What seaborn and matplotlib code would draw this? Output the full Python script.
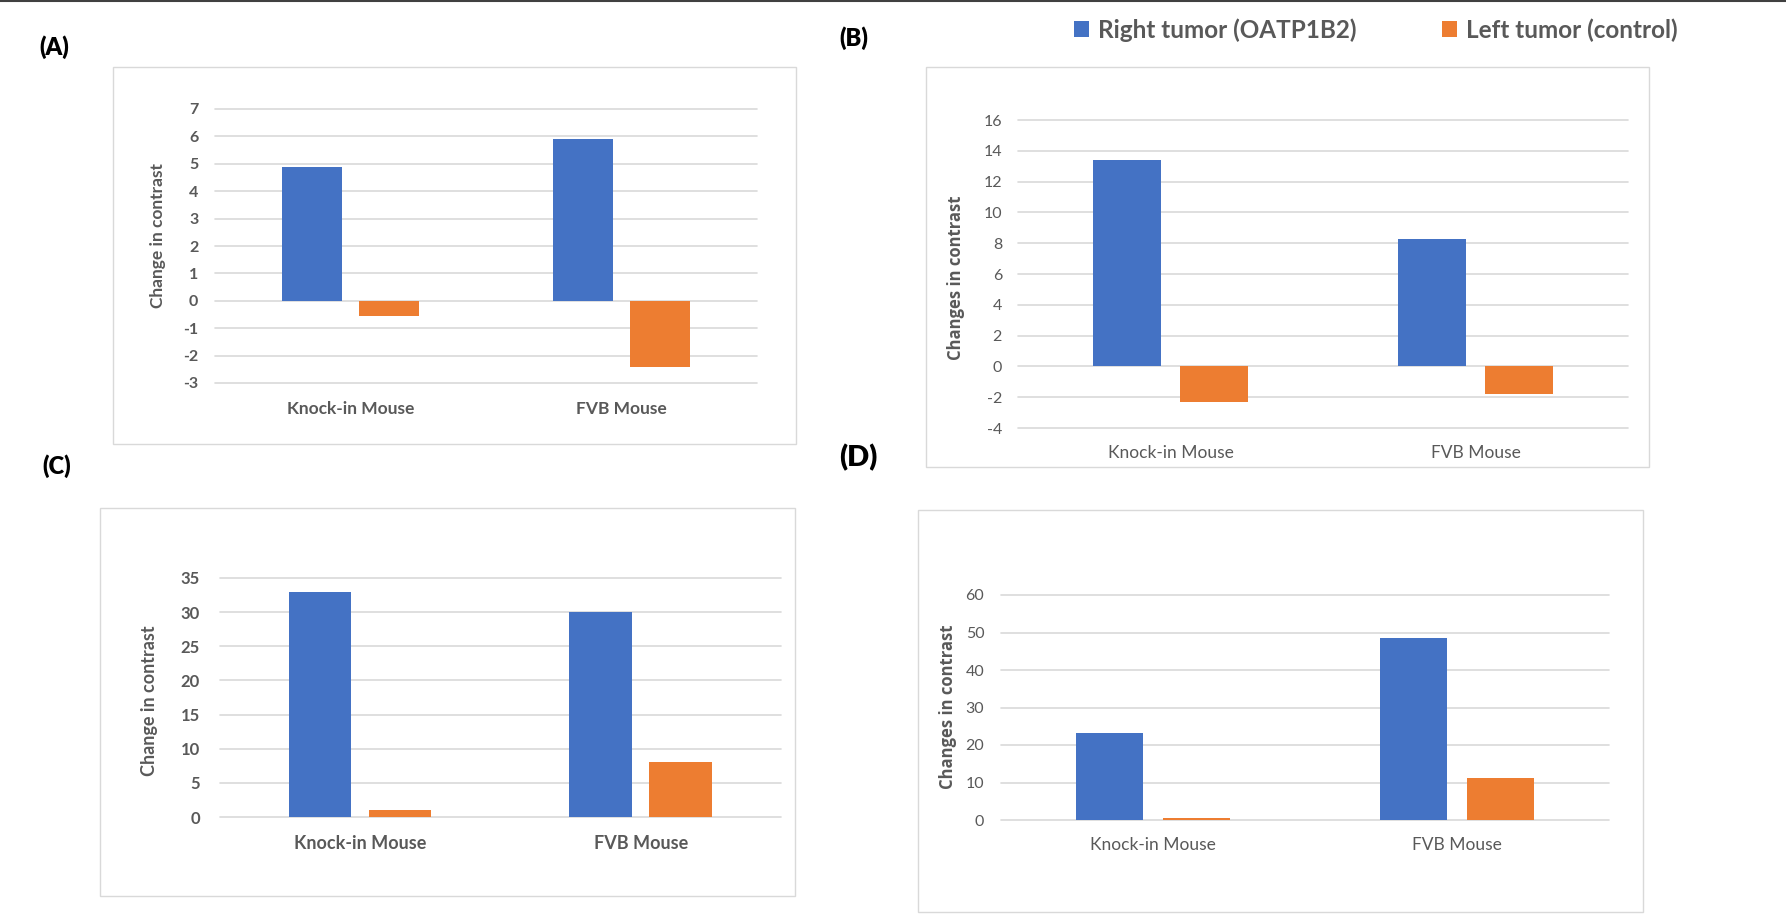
import matplotlib
matplotlib.use("Agg")
import matplotlib.pyplot as plt
from matplotlib.patches import Rectangle
from matplotlib.lines import Line2D
import seaborn as sns
import pandas as pd

# ---------------- data ----------------
categories = ["Knock-in Mouse", "FVB Mouse"]
series = ["Right tumor (OATP1B2)", "Left tumor (control)"]

a_right = [4.9, 5.9]
a_left = [-0.55, -2.4]
b_right = [13.4, 8.3]
b_left = [-2.3, -1.8]
c_right = [33.0, 30.0]
c_left = [1.0, 8.0]
d_right = [23.1, 48.6]
d_left = [0.6, 11.1]

a_ticks = [-3, -2, -1, 0, 1, 2, 3, 4, 5, 6, 7]
b_ticks = [-4, -2, 0, 2, 4, 6, 8, 10, 12, 14, 16]
c_ticks = [0, 5, 10, 15, 20, 25, 30, 35]
d_ticks = [0, 10, 20, 30, 40, 50, 60]

panel_labels = ["(A)", "(B)", "(C)", "(D)"]
ylabels = ["Change in contrast", "Changes in contrast", "Change in contrast", "Changes in contrast"]

BLUE = "#4472C4"
ORANGE = "#ED7D31"
GRID = "#D9D9D9"
TXT = "#595959"

sns.set_theme(style="white")
plt.rcParams["font.family"] = ["Lato", "DejaVu Sans"]

W, H = 1786, 924
fig = plt.figure(figsize=(W / 100, H / 100), dpi=100)
fig.patch.set_facecolor("white")


def fx(px):
    return px / W


def fy(py):
    return 1 - py / H


def make_df(right, left):
    rows = []
    for c, v in zip(categories, right):
        rows.append({"Mouse": c, "Tumor": series[0], "Change": v})
    for c, v in zip(categories, left):
        rows.append({"Mouse": c, "Tumor": series[1], "Change": v})
    return pd.DataFrame(rows)


panels = [
    dict(box=(113, 67, 796, 444), ax=(215, 109, 757, 383), right=a_right, left=a_left, ticks=a_ticks,
         bold=True, ylab=(158, 236), tfs=11.5, cfs=12.5, yfs=12.5, yfam=["Lato", "DejaVu Sans"],
         lab=(54, 47), lfs=17, tpad=12, cpad=13),
    dict(box=(926, 67, 1649, 467), ax=(1018, 120, 1628, 428), right=b_right, left=b_left, ticks=b_ticks,
         bold=False, ylab=(956, 278), tfs=11.5, cfs=12.5, yfs=12, yfam=["Open Sans", "DejaVu Sans"],
         lab=(854, 38), lfs=17, tpad=11.5, cpad=12.5),
    dict(box=(100, 508, 795, 896), ax=(219.5, 578, 781, 817), right=c_right, left=c_left, ticks=c_ticks,
         bold=True, ylab=(150, 701), tfs=12, cfs=13, yfs=13, yfam=["Lato", "DejaVu Sans"],
         lab=(57, 466), lfs=17, tpad=14, cpad=13),
    dict(box=(918, 510, 1643, 912), ax=(1001, 595, 1609, 820), right=d_right, left=d_left, ticks=d_ticks,
         bold=False, ylab=(948, 707), tfs=11.5, cfs=12.5, yfs=12, yfam=["Open Sans", "DejaVu Sans"],
         lab=(858, 458), lfs=21, tpad=12, cpad=12.5),
]

for i, p in enumerate(panels):
    bl, bt, br, bb = p["box"]
    fig.add_artist(Rectangle((fx(bl), fy(bb)), (br - bl) / W, (bb - bt) / H,
                             transform=fig.transFigure, facecolor="white",
                             edgecolor=GRID, lw=1.0, zorder=0))
    al, at, ar, ab = p["ax"]
    ax = fig.add_axes([fx(al), fy(ab), (ar - al) / W, (ab - at) / H])
    ax.set_facecolor("none")
    df = make_df(p["right"], p["left"])
    sns.barplot(data=df, x="Mouse", y="Change", hue="Tumor", order=categories,
                hue_order=series, palette=[BLUE, ORANGE], saturation=1,
                width=0.57, gap=0.22, errorbar=None, legend=False,
                linewidth=0, ax=ax)
    ax.set_xlim(-0.5, 1.5)
    ax.set_ylim(p["ticks"][0], p["ticks"][-1])
    ax.set_yticks(p["ticks"])
    ax.set_yticklabels([str(t) for t in p["ticks"]])
    ax.set_axisbelow(True)
    ax.yaxis.grid(True, color=GRID, lw=1.2)
    ax.xaxis.grid(False)
    for gl in ax.get_ygridlines():
        gl.set_clip_on(False)
    for s in ax.spines.values():
        s.set_visible(False)
    weight = "bold" if p["bold"] else "normal"
    ax.tick_params(axis="y", length=0, pad=p["tpad"], labelsize=p["tfs"], labelcolor=TXT)
    ax.tick_params(axis="x", length=0, pad=p["cpad"], labelsize=p["cfs"], labelcolor=TXT)
    for t in ax.get_yticklabels() + ax.get_xticklabels():
        t.set_fontweight(weight)
    ax.set_xlabel("")
    ax.set_ylabel("")
    fig.text(fx(p["ylab"][0]), fy(p["ylab"][1]), ylabels[i], rotation=90,
             ha="center", va="center", fontsize=p["yfs"], fontweight="bold",
             color=TXT, family=p["yfam"])
    fig.text(fx(p["lab"][0]), fy(p["lab"][1]), panel_labels[i], ha="center",
             va="center", fontsize=p["lfs"], fontweight="heavy", color="black")

# legend
fig.add_artist(Rectangle((fx(1074), fy(37)), 15 / W, 16 / H, transform=fig.transFigure,
                         facecolor=BLUE, edgecolor="none"))
fig.text(fx(1098), fy(30), series[0], ha="left", va="center", fontsize=17.5,
         fontweight="bold", color=TXT)
fig.add_artist(Rectangle((fx(1442), fy(37)), 15 / W, 16 / H, transform=fig.transFigure,
                         facecolor=ORANGE, edgecolor="none"))
fig.text(fx(1466), fy(30), series[1], ha="left", va="center", fontsize=17.5,
         fontweight="bold", color=TXT)

# top rule
fig.add_artist(Line2D([0, 1], [fy(1), fy(1)], transform=fig.transFigure,
                      color="#404040", lw=1.5))

fig.savefig("out.png", dpi=100, facecolor="white")
